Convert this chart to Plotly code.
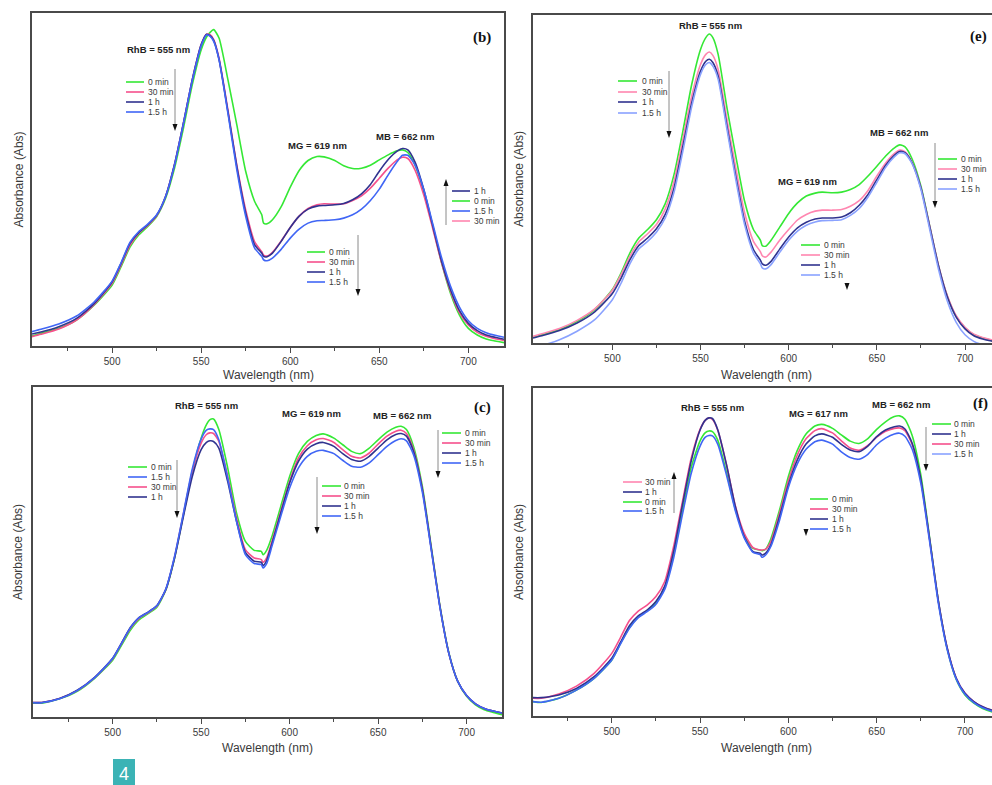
import plotly.graph_objects as go

# ---------------- data (absorbance, arbitrary units) ----------------
WAVELENGTH = [455, 460, 470, 480, 490, 500, 505, 510, 515, 520, 525, 530, 535, 540, 545,
              550, 553, 555, 557, 560, 565, 570, 575, 580, 584, 585, 587, 590, 595, 600,
              605, 610, 615, 619, 625, 630, 635, 640, 645, 650, 655, 660, 663, 666, 670,
              675, 680, 685, 690, 695, 700, 705, 710, 715, 720]

# panel (b)
B_0MIN = [.030, .038, .053, .078, .123, .183, .238, .297, .334, .359, .389, .444, .534, .654, .785,
          .890, .928, .942, .950, .925, .800, .664, .524, .434, .394, .369, .367, .379, .419, .477,
          .527, .557, .569, .568, .557, .541, .533, .534, .543, .559, .574, .586, .589, .581, .544,
          .464, .359, .249, .158, .093, .053, .033, .021, .015, .010]
B_30MIN = [.028, .035, .051, .078, .125, .188, .243, .302, .339, .362, .391, .449, .545, .669, .800,
           .905, .936, .935, .920, .864, .709, .543, .408, .313, .283, .273, .270, .281, .316, .356,
           .390, .413, .424, .427, .426, .427, .437, .451, .474, .504, .534, .559, .567, .563, .529,
           .453, .353, .249, .164, .100, .063, .041, .029, .022, .017]
B_1H = [.036, .042, .058, .083, .128, .193, .248, .308, .341, .364, .393, .449, .545, .669, .800,
        .905, .936, .932, .918, .861, .704, .539, .399, .304, .279, .269, .268, .279, .315, .356,
        .390, .411, .420, .422, .424, .428, .439, .457, .485, .525, .560, .585, .593, .589, .553,
        .469, .361, .254, .169, .106, .068, .046, .033, .026, .020]
B_15H = [.043, .050, .066, .090, .133, .195, .250, .311, .344, .366, .394, .449, .543, .668, .798,
         .902, .934, .930, .915, .860, .699, .529, .389, .294, .269, .259, .256, .264, .291, .324,
         .351, .369, .376, .377, .379, .384, .394, .411, .437, .471, .514, .554, .573, .573, .544,
         .469, .367, .264, .179, .117, .076, .053, .040, .032, .026]

# panel (e)
E_0MIN = [.018, .025, .041, .066, .102, .163, .214, .275, .320, .346, .376, .425, .514, .646, .788,
          .895, .931, .942, .931, .880, .717, .570, .432, .346, .313, .297, .295, .313, .354, .395,
          .427, .448, .457, .460, .458, .460, .468, .483, .509, .539, .570, .595, .604, .598, .561,
          .478, .356, .234, .142, .081, .046, .025, .015, .008, .003]
E_30MIN = [.020, .028, .044, .069, .104, .161, .209, .265, .308, .333, .361, .409, .493, .621, .753,
           .849, .880, .887, .877, .834, .681, .534, .397, .310, .278, .266, .262, .277, .314, .346,
           .375, .392, .402, .405, .405, .407, .417, .434, .465, .509, .549, .578, .588, .583, .551,
           .473, .356, .236, .144, .083, .048, .027, .017, .010, .005]
E_1H = [.015, .022, .038, .061, .095, .151, .198, .254, .297, .320, .348, .392, .473, .600, .732,
        .829, .859, .865, .855, .814, .661, .509, .371, .285, .252, .241, .237, .249, .287, .323,
        .351, .368, .378, .381, .381, .384, .397, .420, .453, .498, .542, .573, .584, .580, .549,
        .473, .354, .234, .140, .079, .043, .022, .012, .006, .002]
E_15H = [-.015, -.008, .010, .036, .071, .132, .183, .242, .287, .310, .338, .381, .460, .585, .720,
         .819, .849, .855, .844, .804, .651, .498, .361, .275, .241, .229, .226, .239, .277, .313,
         .341, .359, .369, .373, .374, .376, .389, .410, .445, .490, .536, .568, .580, .577, .547,
         .468, .346, .224, .127, .063, .025, .005, -.005, -.010, -.015]

# panel (c)
C_0MIN = [.042, .042, .055, .078, .118, .172, .217, .263, .295, .313, .333, .384, .482, .613, .744,
          .845, .886, .901, .903, .871, .755, .618, .532, .505, .502, .492, .505, .547, .638, .729,
          .798, .835, .853, .858, .845, .825, .805, .798, .815, .840, .863, .878, .881, .871, .820,
          .699, .517, .335, .194, .108, .063, .037, .022, .014, .007]
C_30MIN = [.044, .044, .056, .080, .120, .176, .222, .268, .299, .316, .336, .386, .485, .616, .744,
           .830, .856, .861, .859, .835, .729, .603, .507, .482, .477, .469, .482, .532, .623, .714,
           .785, .822, .840, .844, .832, .810, .790, .785, .800, .827, .851, .866, .869, .859, .810,
           .691, .512, .332, .192, .108, .065, .040, .026, .018, .012]
C_1H = [.044, .044, .056, .081, .121, .178, .224, .271, .302, .318, .338, .386, .482, .608, .729,
        .810, .832, .837, .835, .815, .714, .593, .499, .472, .469, .459, .474, .525, .618, .709,
        .775, .812, .828, .832, .820, .798, .780, .775, .790, .815, .840, .856, .859, .851, .805,
        .689, .512, .332, .192, .108, .065, .040, .026, .018, .012]
C_15H = [.043, .043, .055, .080, .120, .177, .223, .270, .301, .317, .337, .387, .487, .618, .752,
         .842, .869, .873, .871, .840, .724, .593, .492, .465, .462, .452, .465, .517, .608, .694,
         .755, .790, .805, .808, .798, .778, .760, .757, .770, .795, .820, .838, .843, .837, .795,
         .681, .507, .330, .192, .108, .065, .040, .026, .018, .012]

# panel (f)
F_0MIN = [.044, .041, .054, .079, .115, .171, .222, .270, .301, .321, .346, .392, .491, .626, .758,
          .839, .864, .869, .867, .841, .742, .630, .552, .511, .506, .504, .508, .539, .628, .730,
          .809, .860, .884, .889, .877, .857, .838, .831, .846, .874, .897, .913, .915, .905, .857,
          .735, .542, .348, .203, .112, .064, .039, .023, .013, .008]
F_30MIN = [.054, .054, .067, .091, .130, .191, .240, .291, .320, .338, .364, .410, .516, .653, .786,
           .874, .902, .909, .904, .872, .766, .640, .557, .513, .506, .506, .508, .531, .618, .717,
           .795, .845, .870, .876, .863, .839, .817, .810, .825, .850, .868, .877, .878, .870, .829,
           .717, .537, .348, .206, .116, .069, .044, .028, .018, .012]
F_1H = [.056, .056, .064, .084, .120, .176, .225, .275, .305, .323, .349, .396, .501, .643, .778,
        .872, .902, .909, .907, .873, .765, .638, .547, .501, .496, .491, .496, .521, .608, .704,
        .780, .829, .854, .860, .850, .828, .811, .806, .823, .852, .872, .882, .884, .875, .833,
        .722, .539, .348, .206, .116, .069, .044, .028, .018, .012]
F_15H = [.044, .042, .054, .079, .115, .171, .220, .267, .300, .318, .341, .386, .481, .614, .740,
         .823, .850, .855, .854, .829, .734, .625, .543, .499, .492, .484, .490, .516, .597, .697,
         .768, .813, .836, .841, .829, .805, .788, .783, .798, .827, .847, .860, .862, .853, .815,
         .709, .531, .341, .201, .113, .066, .041, .025, .015, .010]

TICKS = [500, 550, 600, 650, 700]
MINOR_TICKS = [475, 525, 575, 625, 675]

# ---------------- styling ----------------
GREEN = "#35e835"
PINK = "#f5508c"
LPINK = "#ff86b0"
NAVY = "#30338f"
BLUE = "#4066f5"
LBLUE = "#8aa2ff"
AXC = "#4a4a4a"
TXT = "#3a3a3a"
SANS = "Liberation Sans, Arial, sans-serif"
SERIF = "Liberation Serif, Times New Roman, serif"

W, H = 992, 785


def fx(p):
    return p / W


def fy(p):
    return 1 - p / H


panels = [
    dict(ax="", box=(32, 504, 13, 346), xr=[455, 720], full=True, letter=("(b)", 482, 38, "center"),
         series=[("0 min", B_0MIN, GREEN), ("30 min", B_30MIN, PINK), ("1 h", B_1H, NAVY), ("1.5 h", B_15H, BLUE)],
         xtitle_y=375, ytitle_x=18),
    dict(ax="2", box=(533, 992, 15, 343), xr=[455, 715.3], full=False, letter=("(e)", 978, 37, "center"),
         series=[("0 min", E_0MIN, GREEN), ("30 min", E_30MIN, LPINK), ("1 h", E_1H, NAVY), ("1.5 h", E_15H, LBLUE)],
         xtitle_y=375, ytitle_x=519),
    dict(ax="3", box=(33, 502, 387, 717), xr=[455, 720], full=True, letter=("(c)", 482, 407, "center"),
         series=[("0 min", C_0MIN, GREEN), ("30 min", C_30MIN, PINK), ("1 h", C_1H, NAVY), ("1.5 h", C_15H, BLUE)],
         xtitle_y=748, ytitle_x=18),
    dict(ax="4", box=(533, 992, 388, 716), xr=[455.4, 715.3], full=False, letter=("(f)", 990, 403, "right"),
         series=[("0 min", F_0MIN, GREEN), ("30 min", F_30MIN, PINK), ("1 h", F_1H, NAVY), ("1.5 h", F_15H, BLUE)],
         xtitle_y=748, ytitle_x=519),
]

fig = go.Figure()
shapes = []
annotations = []
layout_axes = {}

for p in panels:
    x0, x1, y0, y1 = p["box"]
    xa = "x" + p["ax"]
    ya = "y" + p["ax"]
    for name, vals, col in p["series"]:
        fig.add_trace(go.Scatter(x=WAVELENGTH, y=vals, mode="lines", name=name, xaxis=xa, yaxis=ya,
                                 line=dict(color=col, width=1.6, shape="spline", smoothing=0.6),
                                 showlegend=False, hoverinfo="skip"))
    layout_axes["xaxis" + p["ax"]] = dict(
        domain=[fx(x0), fx(x1)], range=p["xr"], anchor=ya,
        showline=True, mirror=True, linecolor=AXC, linewidth=1.5,
        tickmode="array", tickvals=TICKS, ticks="outside", ticklen=5, tickwidth=1, tickcolor=AXC,
        minor=dict(tickmode="array", tickvals=MINOR_TICKS, ticks="outside", ticklen=3, tickwidth=1, tickcolor=AXC),
        tickfont=dict(family=SANS, size=10, color=TXT), showgrid=False, zeroline=False)
    layout_axes["yaxis" + p["ax"]] = dict(
        domain=[fy(y1), fy(y0)], range=[0, 1], anchor=xa,
        showline=True, mirror=p["full"], linecolor=AXC, linewidth=1.5,
        showticklabels=False, ticks="", showgrid=False, zeroline=False)
    # axis titles
    title_cx = (x0 + x1) / 2 if p["full"] else (x0 + 1000) / 2
    annotations.append(dict(text="Wavelength (nm)", x=fx(title_cx),
                            y=fy(p["xtitle_y"]), xref="paper", yref="paper", showarrow=False,
                            xanchor="center", yanchor="middle", font=dict(family=SANS, size=12, color=TXT)))
    annotations.append(dict(text="Absorbance (Abs)", x=fx(p["ytitle_x"]), y=fy((y0 + y1) / 2),
                            xref="paper", yref="paper", showarrow=False, textangle=-90,
                            xanchor="center", yanchor="middle", font=dict(family=SANS, size=12, color=TXT)))
    lt, lx, ly, anch = p["letter"]
    annotations.append(dict(text="<b>" + lt + "</b>", x=fx(lx), y=fy(ly), xref="paper", yref="paper",
                            showarrow=False, xanchor=anch, yanchor="middle",
                            font=dict(family=SERIF, size=15, color="#111")))

# peak labels
peak_labels = [
    ("RhB = 555 nm", 158, 50), ("MG = 619 nm", 317, 146), ("MB = 662 nm", 405, 137),
    ("RhB = 555 nm", 710, 26), ("MG = 619 nm", 807, 182), ("MB = 662 nm", 899, 133),
    ("RhB = 555 nm", 206, 405), ("MG = 619 nm", 311, 413), ("MB = 662 nm", 402, 415),
    ("RhB = 555 nm", 712, 407), ("MG = 617 nm", 818, 413), ("MB = 662 nm", 901, 404),
]
for t, x, y in peak_labels:
    annotations.append(dict(text="<b>" + t + "</b>", x=fx(x), y=fy(y), xref="paper", yref="paper",
                            showarrow=False, xanchor="center", yanchor="middle",
                            font=dict(family=SANS, size=9.5, color="#222")))

STD = [("0 min", GREEN), ("30 min", PINK), ("1 h", NAVY), ("1.5 h", BLUE)]
legends = [
    # panel b
    (126, 144, 146, [82, 92, 102, 112], STD),
    (452, 470, 472, [191, 201, 211, 221], [("1 h", NAVY), ("0 min", GREEN), ("1.5 h", BLUE), ("30 min", LPINK)]),
    (307, 325, 327, [252, 262, 272, 282], STD),
    # panel e
    (618, 637, 640, [81, 92, 102, 113], [("0 min", GREEN), ("30 min", LPINK), ("1 h", NAVY), ("1.5 h", LBLUE)]),
    (938, 957, 959, [159, 169, 179, 189], [("0 min", GREEN), ("30 min", LPINK), ("1 h", NAVY), ("1.5 h", LBLUE)]),
    (801, 820, 822, [245, 255, 265, 275], [("0 min", GREEN), ("30 min", LPINK), ("1 h", NAVY), ("1.5 h", LBLUE)]),
    # panel c
    (128, 147, 149, [467, 477, 487, 497], [("0 min", GREEN), ("1.5 h", BLUE), ("30 min", PINK), ("1 h", NAVY)]),
    (322, 341, 342, [486, 496, 506, 516], STD),
    (442, 461, 463, [433, 443, 453, 463], STD),
    # panel f
    (623, 642, 643, [482, 492, 502, 511], [("30 min", LPINK), ("1 h", NAVY), ("0 min", GREEN), ("1.5 h", BLUE)]),
    (810, 828, 830, [499, 509, 519, 529], STD),
    (932, 951, 952, [424, 434, 444, 454], [("0 min", GREEN), ("1 h", NAVY), ("30 min", PINK), ("1.5 h", LBLUE)]),
]
for lx0, lx1, tx, rows, items in legends:
    for yy, (lab, col) in zip(rows, items):
        shapes.append(dict(type="line", xref="paper", yref="paper", x0=fx(lx0), x1=fx(lx1),
                           y0=fy(yy), y1=fy(yy), line=dict(color=col, width=1.6)))
        annotations.append(dict(text=lab, x=fx(tx), y=fy(yy), xref="paper", yref="paper", showarrow=False,
                                xanchor="left", yanchor="middle", font=dict(family=SANS, size=8.5, color=TXT)))


def tri(x, ytip, down=True):
    s = -7 if down else 7
    pts = [(x - 2.5, ytip + s), (x + 2.5, ytip + s), (x, ytip)]
    path = "M " + " L ".join(f"{fx(a):.5f},{fy(b):.5f}" for a, b in pts) + " Z"
    return dict(type="path", xref="paper", yref="paper", path=path, fillcolor="#111", line=dict(width=0))


arrows = [(175, 69, 131), (446, 225, 179), (358, 235, 296),
          (669, 71, 138), (935, 143, 208),
          (177, 460, 518), (317, 477, 534), (438, 430, 478),
          (674, 513, 472), (926, 427, 471)]
for x, ya_, yb in arrows:
    down = yb > ya_
    shapes.append(dict(type="line", xref="paper", yref="paper", x0=fx(x), x1=fx(x), y0=fy(ya_),
                       y1=fy(yb - 5 if down else yb + 5), line=dict(color="#8a8a8a", width=1)))
    shapes.append(tri(x, yb, down))
shapes.append(tri(847, 290, True))
shapes.append(tri(806, 536, True))

# page badge
shapes.append(dict(type="rect", xref="paper", yref="paper", x0=fx(113), x1=fx(135), y0=fy(790), y1=fy(759),
                   fillcolor="#3bb3b5", line=dict(width=0)))
annotations.append(dict(text="4", x=fx(124), y=fy(774), xref="paper", yref="paper", showarrow=False,
                        xanchor="center", yanchor="middle", font=dict(family=SANS, size=18, color="white")))

fig.update_layout(width=W, height=H, margin=dict(l=0, r=0, t=0, b=0),
                  paper_bgcolor="white", plot_bgcolor="white",
                  shapes=shapes, annotations=annotations, **layout_axes)

fig.write_html("out.html")
